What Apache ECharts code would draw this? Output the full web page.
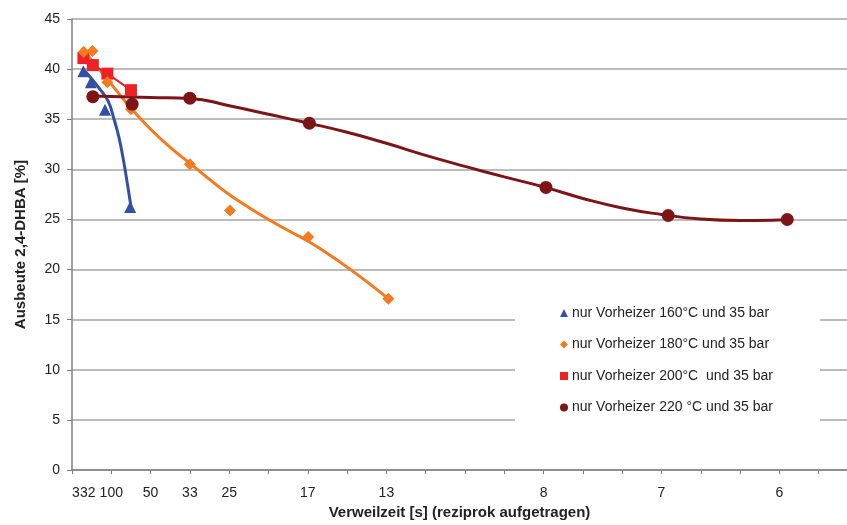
<!DOCTYPE html>
<html>
<head>
<meta charset="utf-8">
<script src="https://cdn.jsdelivr.net/npm/echarts@6/dist/echarts.min.js"></script>
<style>html,body{margin:0;padding:0;background:#fff}#c{width:847px;height:525px}</style>
</head>
<body>
<div id="c"></div>
<script>
// x values are reciprocal residence times (100 / t), labels show t in seconds
var xLabelPos = [0.3, 1, 2, 3, 4, 6, 8, 12, 15, 18];
var xLabelText = ['332', '100', '50', '33', '25', '17', '13', '8', '7', '6'];

var names = [
  'nur Vorheizer 160°C und 35 bar',
  'nur Vorheizer 180°C und 35 bar',
  'nur Vorheizer 200°C  und 35 bar',
  'nur Vorheizer 220 °C und 35 bar'
];

// measured points
var s160 = [[0.29, 39.8], [0.48, 38.7], [0.84, 35.95], [1.48, 26.25]];
var s180 = [[0.3, 41.7], [0.52, 41.8], [0.9, 38.7], [1.5, 36.0], [3.0, 30.5], [4.02, 25.9], [6.01, 23.25], [8.05, 17.1]];
var s200 = [[0.29, 41.1], [0.53, 40.4], [0.9, 39.55], [1.5, 37.9]];
var s220 = [[0.53, 37.25], [1.53, 36.5], [3.0, 37.1], [6.04, 34.6], [12.06, 28.2], [15.17, 25.4], [18.2, 25.0]];

// trend curves
var t160 = [[0.28, 40.0], [0.51, 39.0], [0.71, 38.0], [0.92, 36.8], [1.07, 35.0], [1.2, 33.1], [1.3, 31.1], [1.4, 28.8], [1.5, 26.3]];
var t180 = [[0.25, 42.1], [0.5, 40.9], [1, 38.5], [1.5, 36.1], [2, 34.0], [2.5, 32.2], [3, 30.6], [3.5, 29.0], [4, 27.5], [4.5, 26.2], [5, 25.0], [5.5, 23.9], [6, 22.85], [6.5, 21.6], [7, 20.25], [7.5, 18.8], [8.05, 17.1]];
var t220 = [[0.5, 37.33], [1, 37.28], [1.5, 37.22], [2, 37.17], [3, 37.08], [4, 36.35], [5, 35.5], [6, 34.63], [7, 33.7], [8, 32.6], [9, 31.4], [10, 30.3], [11, 29.25], [12, 28.25], [13, 27.1], [14, 26.15], [15, 25.5], [16, 25.05], [17, 24.9], [18, 24.95], [18.2, 25.0]];

var cBlue = '#3350a6', cOrange = '#f47a20', cRed = '#ec2227', cDark = '#7d1517';
var txt = '#222222', font = 'Arial, "Liberation Sans", sans-serif';

var chart = echarts.init(document.getElementById('c'), null, {renderer: 'canvas'});
chart.setOption({
  animation: false,
  backgroundColor: '#ffffff',
  textStyle: {fontFamily: font},
  grid: {left: 72, top: 19, bottom: 50, right: 0},
  legend: {
    orient: 'vertical',
    left: 515, top: 295,
    padding: [11, 47, 12, 45],
    backgroundColor: '#ffffff',
    itemWidth: 8, itemHeight: 8,
    itemGap: 17.5,
    textStyle: {fontSize: 14, color: txt, fontFamily: font, padding: [0, 0, 0, -1]},
    data: [
      {name: names[0], icon: 'triangle'},
      {name: names[1], icon: 'diamond'},
      {name: names[2], icon: 'rect'},
      {name: names[3], icon: 'circle'}
    ]
  },
  xAxis: {
    type: 'value', min: 0, max: 19.72, interval: 1,
    name: 'Verweilzeit [s] (reziprok aufgetragen)',
    nameLocation: 'middle', nameGap: 32,
    nameTextStyle: {fontSize: 15, fontWeight: 'bold', color: txt, fontFamily: font},
    axisLine: {show: true, onZero: false, lineStyle: {color: '#808080', width: 1.5}},
    axisTick: {show: true, length: 4, lineStyle: {color: '#808080'}},
    axisLabel: {
      customValues: xLabelPos,
      fontSize: 14, color: txt, margin: 16, fontFamily: font,
      formatter: function (v) {
        for (var i = 0; i < xLabelPos.length; i++) {
          if (Math.abs(xLabelPos[i] - v) < 1e-6) return xLabelText[i];
        }
        return '';
      }
    },
    splitLine: {show: false}
  },
  yAxis: {
    type: 'value', min: 0, max: 45, interval: 5,
    name: 'Ausbeute 2,4-DHBA [%]',
    nameLocation: 'middle', nameGap: 44,
    nameTextStyle: {fontSize: 15, fontWeight: 'bold', color: txt, fontFamily: font},
    axisLine: {show: true, lineStyle: {color: '#808080', width: 1.5}},
    axisTick: {show: true, length: 5, lineStyle: {color: '#808080'}},
    axisLabel: {fontSize: 14, color: txt, margin: 12, fontFamily: font},
    splitLine: {show: true, lineStyle: {color: '#a6a6a6', width: 1.5}}
  },
  series: [
    {name: 't160', type: 'line', data: t160, smooth: 0.5, showSymbol: false, symbol: 'none',
     lineStyle: {color: cBlue, width: 3}, z: 2},
    {name: 't180', type: 'line', data: t180, smooth: 0.5, showSymbol: false, symbol: 'none',
     lineStyle: {color: cOrange, width: 3}, z: 2},
    {name: 't220', type: 'line', data: t220, smooth: 0.5, showSymbol: false, symbol: 'none',
     lineStyle: {color: cDark, width: 3}, z: 2},
    {name: names[0], type: 'scatter', data: s160, symbol: 'triangle', symbolSize: 12,
     itemStyle: {color: cBlue, opacity: 1}, z: 3},
    {name: names[2], type: 'line', data: s200, symbol: 'rect', symbolSize: 12, showAllSymbol: true,
     lineStyle: {color: cRed, width: 2}, itemStyle: {color: cRed, opacity: 1}, z: 3},
    {name: names[1], type: 'scatter', data: s180, symbol: 'diamond', symbolSize: 12,
     itemStyle: {color: cOrange, opacity: 1}, z: 4},
    {name: names[3], type: 'scatter', data: s220, symbol: 'circle', symbolSize: 13,
     itemStyle: {color: cDark, opacity: 1}, z: 4}
  ]
});
</script>
</body>
</html>
